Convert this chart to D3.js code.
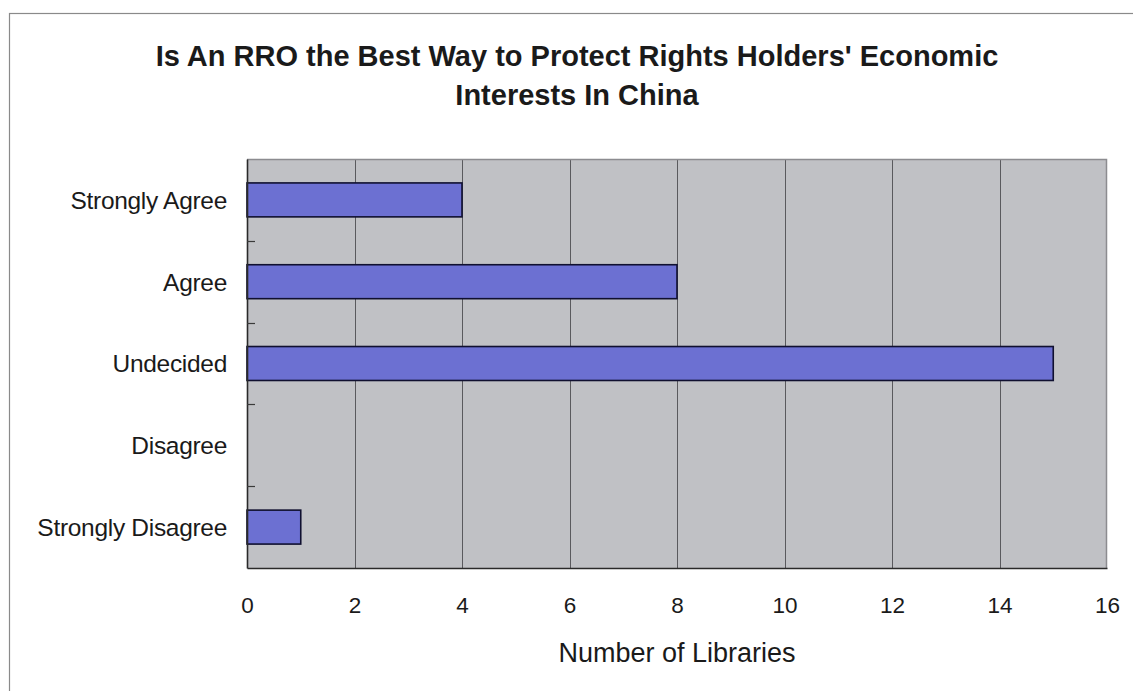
<!DOCTYPE html>
<html>
<head>
<meta charset="utf-8">
<script src="https://cdn.jsdelivr.net/npm/d3@7"></script>
<style>
html,body{margin:0;padding:0;background:#fff;}
svg{display:block;}
text{font-family:"Liberation Sans",Arial,sans-serif;fill:#1a1a1a;}
</style>
</head>
<body>
<svg id="chart" width="1133" height="691"></svg>
<script>
const categories = ["Strongly Agree","Agree","Undecided","Disagree","Strongly Disagree"];
const values = [4, 8, 15, 0, 1];
const xTicks = [0,2,4,6,8,10,12,14,16];
const titleLines = ["Is An RRO the Best Way to Protect Rights Holders' Economic","Interests In China"];
const xTitle = "Number of Libraries";

const svg = d3.select("#chart");
const W = 1133, H = 691;
const plot = {left:247, top:159, right:1107, bottom:568};

// outer frame (extends beyond picture on right/bottom)
svg.append("rect").attr("x",9.5).attr("y",13.5).attr("width",W+20).attr("height",H+20)
  .attr("fill","#fff").attr("stroke","#8a8a8a").attr("stroke-width",1.2);

const x = d3.scaleLinear().domain([0,16]).range([plot.left, plot.right]);
const y = d3.scaleBand().domain(categories).range([plot.top, plot.bottom]).paddingInner(0.585).paddingOuter(0.2925);
const yb = d3.scaleBand().domain(categories).range([plot.top, plot.bottom]);

// plot background
svg.append("rect").attr("x",plot.left).attr("y",plot.top)
  .attr("width",plot.right-plot.left).attr("height",plot.bottom-plot.top)
  .attr("fill","#c0c1c5");

// gridlines
svg.append("g").selectAll("line").data(xTicks.slice(1,-1)).join("line")
  .attr("x1",d=>Math.round(x(d))+0.5).attr("x2",d=>Math.round(x(d))+0.5)
  .attr("y1",plot.top).attr("y2",plot.bottom)
  .attr("stroke","#5a5a5e").attr("stroke-width",1);

// plot border top/right
svg.append("path")
  .attr("d",`M${plot.left},${plot.top+0.5}H${plot.right-0.5}V${plot.bottom}`)
  .attr("fill","none").attr("stroke","#8c8c90").attr("stroke-width",1.5);

// bars
svg.append("g").selectAll("rect").data(values).join("rect")
  .attr("x",x(0))
  .attr("y",(d,i)=>y(categories[i]))
  .attr("width",d=>x(d)-x(0))
  .attr("height",y.bandwidth())
  .attr("fill","#6c70d2")
  .attr("stroke","#101030").attr("stroke-width",1.6)
  .attr("display",d=>d>0?null:"none");

// x axis
const xAxis = svg.append("g").attr("transform",`translate(0,${plot.bottom})`)
  .call(d3.axisBottom(x).tickValues(xTicks).tickSize(0).tickPadding(0));
xAxis.select(".domain").attr("stroke","#2a2a2a").attr("stroke-width",1.6);
xAxis.selectAll("text").attr("y",45).attr("dy",null)
  .style("font-size","22.5px").style("font-family","Liberation Sans, Arial, sans-serif").attr("fill","#1a1a1a");

// y axis
const yAxis = svg.append("g").attr("transform",`translate(${plot.left},0)`)
  .call(d3.axisLeft(y).tickSize(0).tickPadding(20));
yAxis.select(".domain").attr("stroke","#2a2a2a").attr("stroke-width",1.6);
yAxis.selectAll("text").attr("dy","0.36em")
  .style("font-size","24.5px").style("font-family","Liberation Sans, Arial, sans-serif").attr("fill","#1a1a1a")
  .attr("letter-spacing","-0.3px");

// inward category boundary ticks
svg.append("g").selectAll("line").data(categories.slice(1)).join("line")
  .attr("x1",plot.left).attr("x2",plot.left+8)
  .attr("y1",d=>Math.round(yb(d))+0.5).attr("y2",d=>Math.round(yb(d))+0.5)
  .attr("stroke","#3a3a3a").attr("stroke-width",1.2);

// title
svg.append("g").selectAll("text").data(titleLines).join("text")
  .attr("x",577).attr("y",(d,i)=>66+i*39)
  .attr("text-anchor","middle")
  .style("font-size","29px").style("font-weight","bold")
  .text(d=>d);

// x axis title
svg.append("text").attr("x",677).attr("y",662).attr("text-anchor","middle")
  .style("font-size","27px").text(xTitle);
</script>
</body>
</html>
